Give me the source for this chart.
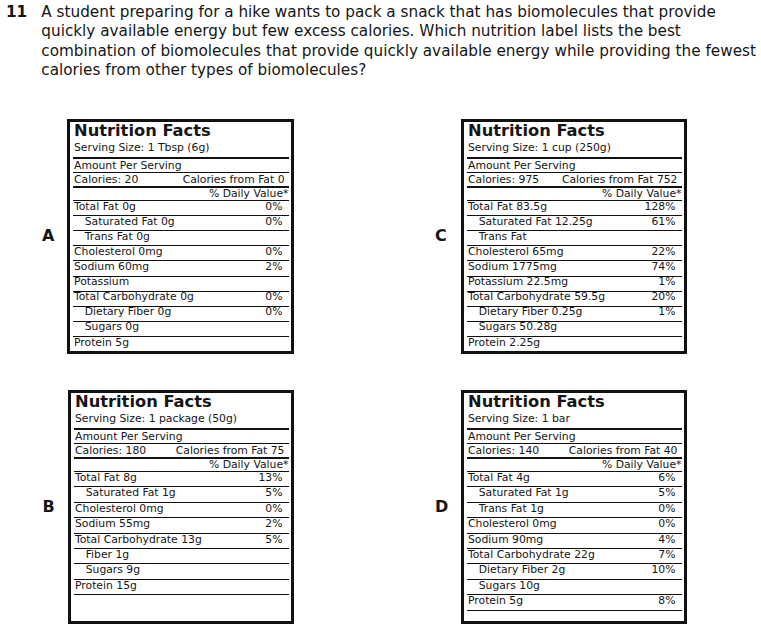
<!DOCTYPE html>
<html>
<head>
<meta charset="utf-8">
<script src="https://cdn.jsdelivr.net/npm/chart.js@4.4.1/dist/chart.umd.min.js"></script>
<style>
  html, body { margin: 0; padding: 0; background: #fff; }
  #page { position: relative; width: 761px; height: 636px; overflow: hidden; font-family: "DejaVu Sans", Verdana, sans-serif; color: #151515; }
  .t { position: absolute; white-space: pre; }
  .box { position: absolute; border: 3px solid #111; box-sizing: border-box; overflow: hidden; background: #fff; }
  .rule { position: absolute; background: #111; }
</style>
</head>
<body>
<div id="page"></div>
<script>
// ---------- data ----------
const questionNumber = '11';
const questionLines = [
  'A student preparing for a hike wants to pack a snack that has biomolecules that provide',
  'quickly available energy but few excess calories. Which nutrition label lists the best',
  'combination of biomolecules that provide quickly available energy while providing the fewest',
  'calories from other types of biomolecules?'
];
const labelLetters = ['A', 'B', 'C', 'D'];
const servingSizes = ['1 Tbsp (6g)', '1 package (50g)', '1 cup (250g)', '1 bar'];
const caloriesTotal = [20, 180, 975, 140];
const caloriesFromFat = [0, 75, 752, 40];
// [nutrient text, % daily value, indented]
const rowsA = [
  ['Total Fat 0g', '0%', 0], ['Saturated Fat 0g', '0%', 1], ['Trans Fat 0g', '', 1],
  ['Cholesterol 0mg', '0%', 0], ['Sodium 60mg', '2%', 0], ['Potassium', '', 0],
  ['Total Carbohydrate 0g', '0%', 0], ['Dietary Fiber 0g', '0%', 1], ['Sugars 0g', '', 1],
  ['Protein 5g', '', 0]
];
const rowsB = [
  ['Total Fat 8g', '13%', 0], ['Saturated Fat 1g', '5%', 1], ['Cholesterol 0mg', '0%', 0],
  ['Sodium 55mg', '2%', 0], ['Total Carbohydrate 13g', '5%', 0], ['Fiber 1g', '', 1],
  ['Sugars 9g', '', 1], ['Protein 15g', '', 0]
];
const rowsC = [
  ['Total Fat 83.5g', '128%', 0], ['Saturated Fat 12.25g', '61%', 1], ['Trans Fat', '', 1],
  ['Cholesterol 65mg', '22%', 0], ['Sodium 1775mg', '74%', 0], ['Potassium 22.5mg', '1%', 0],
  ['Total Carbohydrate 59.5g', '20%', 0], ['Dietary Fiber 0.25g', '1%', 1], ['Sugars 50.28g', '', 1],
  ['Protein 2.25g', '', 0]
];
const rowsD = [
  ['Total Fat 4g', '6%', 0], ['Saturated Fat 1g', '5%', 1], ['Trans Fat 1g', '0%', 1],
  ['Cholesterol 0mg', '0%', 0], ['Sodium 90mg', '4%', 0], ['Total Carbohydrate 22g', '7%', 0],
  ['Dietary Fiber 2g', '10%', 1], ['Sugars 10g', '', 1], ['Protein 5g', '8%', 0]
];
const labelRows = [rowsA, rowsB, rowsC, rowsD];

// ---------- layout ----------
const boxes = [
  { x: 67,  y: 119, w: 227, h: 235, rowH: 15.1, letterX: 42,  letterBase: 241.7 },
  { x: 68,  y: 390, w: 226, h: 234, rowH: 15.4, letterX: 42.5, letterBase: 513.3 },
  { x: 461, y: 119, w: 226, h: 235, rowH: 15.1, letterX: 435, letterBase: 241.7 },
  { x: 461, y: 390, w: 226, h: 234, rowH: 15.4, letterX: 435, letterBase: 513.3 }
];
const page = document.getElementById('page');
const ASC = 0.928, LH = 1.164;

function txt(parent, s, x, base, fs, opt) {
  opt = opt || {};
  const e = document.createElement('span');
  e.className = 't';
  e.textContent = s;
  e.style.fontSize = fs + 'px';
  e.style.lineHeight = (LH * fs) + 'px';
  e.style.top = (base - ASC * fs) + 'px';
  if (opt.bold) e.style.fontWeight = 'bold';
  if (opt.right !== undefined) e.style.right = opt.right + 'px';
  else e.style.left = x + 'px';
  if (opt.ls) e.style.letterSpacing = opt.ls + 'px';
  parent.appendChild(e);
  return e;
}
function rule(parent, x, y, w, h) {
  const e = document.createElement('div');
  e.className = 'rule';
  e.style.left = x + 'px'; e.style.top = y + 'px';
  e.style.width = w + 'px'; e.style.height = h + 'px';
  parent.appendChild(e);
}

// question
const QFS = 15.25;
txt(page, questionNumber, 6, 18.3, QFS, { bold: true });
questionLines.forEach((l, i) => txt(page, l, 41.3, 18.3 + i * 19.3, QFS));

// labels
const SFS = 10.8, TFS = 16.3;
labelLetters.forEach((letter, k) => {
  const b = boxes[k];
  txt(page, letter, b.letterX, b.letterBase, 16, { bold: true });
  const box = document.createElement('div');
  box.className = 'box';
  box.style.left = b.x + 'px'; box.style.top = b.y + 'px';
  box.style.width = b.w + 'px'; box.style.height = b.h + 'px';
  page.appendChild(box);
  const innerW = b.w - 6;
  const padL = 3, padR = 2;
  const cw = innerW - padL - padR;
  const tx = padL + 1;
  txt(box, 'Nutrition Facts', tx, 15.5, TFS, { bold: true });
  txt(box, 'Serving Size: ' + servingSizes[k], tx, 30.3, SFS);
  rule(box, padL, 35, cw, 2);
  txt(box, 'Amount Per Serving', tx, 48, SFS);
  rule(box, padL, 50, cw, 1);
  txt(box, 'Calories: ' + caloriesTotal[k], tx, 62.3, SFS);
  txt(box, 'Calories from Fat ' + caloriesFromFat[k], 0, 62.3, SFS, { right: padR + 4.5 });
  rule(box, padL, 64, cw, 2);
  txt(box, '% Daily Value*', 0, 76.3, SFS, { right: padR + 0.5 });
  rule(box, padL, 78, cw, 1);
  labelRows[k].forEach((r, i) => {
    const lineY = 79 + (i + 1) * b.rowH - 1;
    const base = lineY - 4.4;
    txt(box, r[0], tx + (r[2] ? 10.7 : 0), base, SFS);
    if (r[1]) txt(box, r[1], 0, base, SFS, { right: padR + 6.6 });
    rule(box, padL, Math.round(lineY), cw, 1);
  });
});
</script>
</body>
</html>
